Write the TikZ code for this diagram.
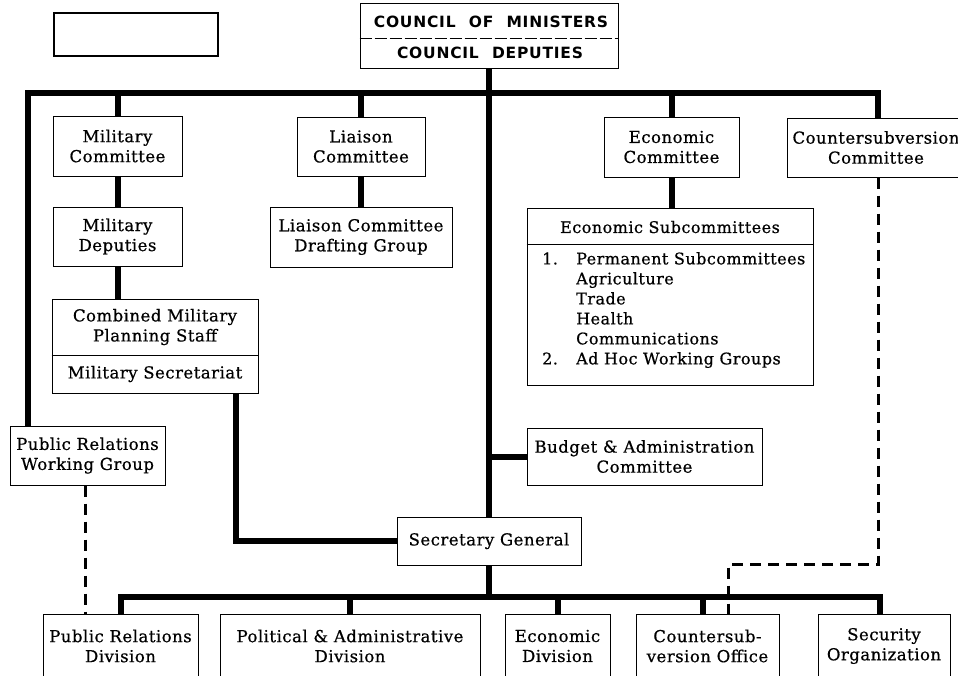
\documentclass[tikz,border=0pt]{standalone}
\usepackage{fontspec}
\setmainfont{DejaVu Serif}[LetterSpace=3,FakeBold=0.6]
\newfontfamily\hfont{DejaVu Sans}[LetterSpace=5]
\begin{document}
\begin{tikzpicture}[x=1pt,y=-1pt,
  txt/.style={font=\fontsize{16.5}{20}\selectfont},
  box/.style={draw=black,line width=1pt,fill=white,align=center,inner sep=0pt,txt},
  conn/.style={line width=6pt,line join=miter},
  dashconn/.style={line width=3pt,dash pattern=on 11pt off 7pt},
  divider/.style={line width=0.8pt},
  head/.style={font=\hfont\bfseries\fontsize{15.5}{18}\selectfont}]
\useasboundingbox (0,0) rectangle (958,675);
% top left blank box
\node[box,line width=1.6pt,minimum width=164,minimum height=43] (blank) at (136,34.5) {};
% council
\node[box,minimum width=258,minimum height=65] (council) at (489,35.5) {};
\draw[dash pattern=on 12pt off 3pt,line width=0.8pt] (council.west |- 0,38) -- (council.east |- 0,38);
\node[head] (cm) at (491,22) {COUNCIL\hspace{7pt} OF\hspace{7pt} MINISTERS};
\node[head] (cd) at (490,53) {COUNCIL\hspace{7pt} DEPUTIES};
% first level
\node[box,minimum width=129,minimum height=60] (milcom) at (117.5,146) {Military\\Committee};
\node[box,minimum width=128,minimum height=59] (liacom) at (361,146.5) {Liaison\\Committee};
\node[box,minimum width=135,minimum height=60] (ecocom) at (671.5,147) {Economic\\Committee};
\node[box,minimum width=178,minimum height=59] (cscom) at (876,147.5) {Countersubversion\\Committee};
% second level
\node[box,minimum width=129,minimum height=59] (mildep) at (117.5,236.5) {Military\\Deputies};
\node[box,minimum width=182,minimum height=60] (liadraft) at (361,237) {Liaison Committee\\Drafting Group};
\node[box,minimum width=206,minimum height=94] (cmps) at (155,346) {};
\draw[divider] (cmps.west |- 0,355) -- (cmps.east |- 0,355);
\node[txt,align=center] (cmpst) at (155,327) {Combined Military\\Planning Staff};
\node[txt] (msec) at (155,374) {Military Secretariat};
% economic subcommittees
\node[box,minimum width=286,minimum height=177] (ecosub) at (670,296.5) {};
\draw[divider] (ecosub.west |- 0,244) -- (ecosub.east |- 0,244);
\node[font=\fontsize{16}{20}\selectfont] (ecosubt) at (670,227) {Economic Subcommittees};
\node[font=\fontsize{16}{20}\selectfont,align=left,anchor=north west,inner sep=0pt] (ecolist) at (542,252)
 {\makebox[34pt][l]{1.}Permanent Subcommittees\\
  \hspace*{34pt}Agriculture\\
  \hspace*{34pt}Trade\\
  \hspace*{34pt}Health\\
  \hspace*{34pt}Communications\\
  \makebox[34pt][l]{2.}Ad Hoc Working Groups};
% middle
\node[box,minimum width=155,minimum height=59] (prwg) at (87.5,455.5) {Public Relations\\Working Group};
\node[box,minimum width=235,minimum height=57] (budget) at (644.5,456.5) {Budget \& Administration\\Committee};
\node[box,minimum width=184,minimum height=48] (sg) at (489,541) {Secretary General};
% bottom
\node[box,minimum width=155,minimum height=64] (prdiv) at (120.5,646) {Public Relations\\Division};
\node[box,minimum width=260,minimum height=64] (poldiv) at (350,646) {Political \& Administrative\\Division};
\node[box,minimum width=105,minimum height=64] (ecodiv) at (557.5,646) {Economic\\Division};
\node[box,minimum width=143,minimum height=64] (csoff) at (707.5,646) {Countersub-\\version Office};
\node[box,minimum width=132,minimum height=64] (secorg) at (884,646) {Security\\Organization};
% coordinates
\coordinate (bar) at (0,93);
\coordinate (bbar) at (0,597);
\coordinate (lx) at (28,0);
\coordinate (csx) at (878,0);
\coordinate (cmx) at (236,0);
\coordinate (prx) at (85,0);
\coordinate (cox) at (728,0);
\coordinate (secx) at (880,0);
\coordinate (cso) at (703,0);
\coordinate (dcorner) at (728,564);
% connectors
\draw[conn] (prwg.north -| lx) -- (lx |- bar) -- (csx |- bar) -- (cscom.north -| csx);
\draw[conn] (milcom.north) -- (milcom.north |- bar);
\draw[conn] (liacom.north) -- (liacom.north |- bar);
\draw[conn] (ecocom.north) -- (ecocom.north |- bar);
\draw[conn] (milcom) -- (mildep);
\draw[conn] (mildep.south) -- (cmps.north -| mildep.south);
\draw[conn] (liacom) -- (liadraft);
\draw[conn] (ecocom) -- (ecosub.north -| ecocom.south);
\draw[conn] (council.south) -- (sg.north);
\draw[conn] (budget.west) -- (budget.west -| council.south);
\draw[conn] (cmps.south -| cmx) |- (sg.west);
\draw[conn] (sg.south) -- (sg.south |- bbar);
\draw[conn] (prdiv.north) -- (prdiv.north |- bbar) -- (bbar -| secx) -- (secorg.north -| secx);
\draw[conn] (poldiv.north) -- (poldiv.north |- bbar);
\draw[conn] (ecodiv.north) -- (ecodiv.north |- bbar);
\draw[conn] (csoff.north -| cso) -- (bbar -| cso);
\draw[dashconn] (prwg.south -| prx) -- (prdiv.north -| prx);
\draw[dashconn] (cscom.south -| csx) |- (dcorner) -- (csoff.north -| cox);
\end{tikzpicture}
\end{document}
